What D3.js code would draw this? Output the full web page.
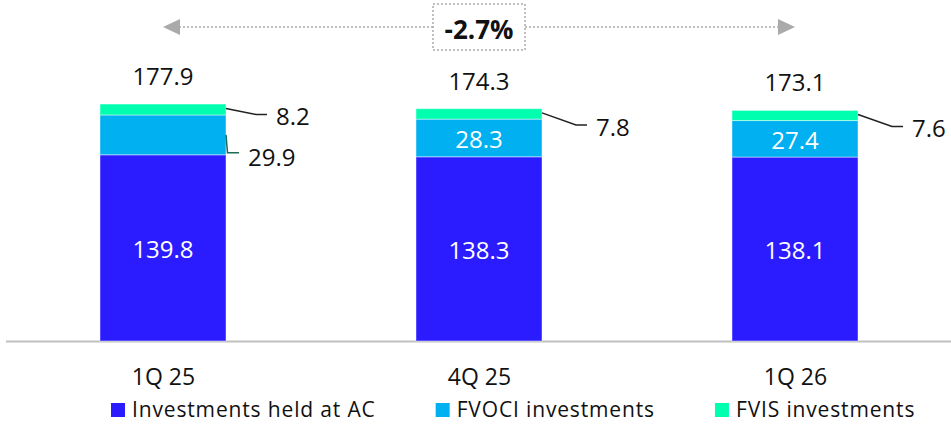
<!DOCTYPE html>
<html>
<head>
<meta charset="utf-8">
<script src="https://cdn.jsdelivr.net/npm/d3@7"></script>
<style>
  body { margin: 0; background: #fff; }
  svg { display: block; font-family: "Open Sans", "Noto Sans", sans-serif; }
</style>
</head>
<body>
<svg id="chart" width="951" height="424"></svg>
<script>
// data
var categories = ["1Q 25", "4Q 25", "1Q 26"];
var heldAtAC = [139.8, 138.3, 138.1];
var fvoci = [29.9, 28.3, 27.4];
var fvis = [8.2, 7.8, 7.6];
var totals = [177.9, 174.3, 173.1];
var fvociOutside = [true, false, false];
var changeLabel = "-2.7%";
var seriesNames = ["Investments held at AC", "FVOCI investments", "FVIS investments"];
var colors = ["#2a1cff", "#00b0f0", "#00ffae"];

var svg = d3.select("#chart");
var baseY = 341;
var barW = 126;

var x = d3.scalePoint().domain(categories).range([163, 795]);
var y = d3.scaleLinear().domain([0, 256]).range([baseY, 0]);

// stack the three series
var rows = categories.map(function(c, i){
  return {cat: c, ac: heldAtAC[i], fvoci: fvoci[i], fvis: fvis[i]};
});
var stack = d3.stack().keys(["ac", "fvoci", "fvis"]);
var layers = stack(rows);

// baseline
svg.append("line")
  .attr("x1", 6).attr("x2", 951)
  .attr("y1", baseY + 0.5).attr("y2", baseY + 0.5)
  .attr("stroke", "#c0c0c0").attr("stroke-width", 2);

// bars
svg.selectAll("g.layer")
  .data(layers)
  .enter()
  .append("g")
  .attr("class", "layer")
  .attr("fill", function(d, i){ return colors[i]; })
  .selectAll("rect")
  .data(function(d){ return d; })
  .enter()
  .append("rect")
  .attr("x", function(d){ return x(d.data.cat) - barW / 2; })
  .attr("y", function(d){ return y(d[1]); })
  .attr("width", barW)
  .attr("height", function(d){ return y(d[0]) - y(d[1]); })
  .attr("stroke", "rgba(255,255,255,0.45)")
  .attr("stroke-width", 1);

// values inside the bars
svg.selectAll("text.acLabel")
  .data(layers[0])
  .enter()
  .append("text")
  .attr("x", function(d){ return x(d.data.cat); })
  .attr("y", function(d){ return (y(d[0]) + y(d[1])) / 2 + 10; })
  .attr("text-anchor", "middle")
  .attr("fill", "#fff")
  .attr("font-size", 24)
  .text(function(d){ return d.data.ac.toFixed(1); });

svg.selectAll("text.fvociLabel")
  .data(layers[1].filter(function(d, i){ return !fvociOutside[i]; }))
  .enter()
  .append("text")
  .attr("x", function(d){ return x(d.data.cat); })
  .attr("y", function(d){ return (y(d[0]) + y(d[1])) / 2 + 10; })
  .attr("text-anchor", "middle")
  .attr("fill", "#fff")
  .attr("font-size", 24)
  .text(function(d){ return d.data.fvoci.toFixed(1); });

// FVOCI label outside (first bar) with teal leader
layers[1].forEach(function(d, i){
  if (!fvociOutside[i]) return;
  var rx = x(d.data.cat) + barW / 2;
  var mid = (y(d[0]) + y(d[1])) / 2;
  svg.append("path")
    .attr("d", "M" + rx + "," + mid + " L" + (rx + 1.5) + "," + (mid + 18) + " L" + (rx + 13) + "," + (mid + 18))
    .attr("fill", "none").attr("stroke", "#1b6b58").attr("stroke-width", 1.5);
  svg.append("text")
    .attr("x", rx + 22).attr("y", mid + 31)
    .attr("font-size", 24).attr("fill", "#111")
    .text(d.data.fvoci.toFixed(1));
});

// FVIS labels outside with leaders
layers[2].forEach(function(d, i){
  var rx = x(d.data.cat) + barW / 2;
  var mid = (y(d[0]) + y(d[1])) / 2;
  var dy = fvociOutside[i] ? 5 : 11;
  var dx = fvociOutside[i] ? 30 : 34;
  svg.append("path")
    .attr("d", "M" + rx + "," + (mid - 1) + " L" + (rx + dx) + "," + (mid + dy) + " L" + (rx + dx + 11) + "," + (mid + dy))
    .attr("fill", "none").attr("stroke", "#222").attr("stroke-width", 1.5);
  svg.append("text")
    .attr("x", rx + dx + 20).attr("y", mid + dy + 11)
    .attr("font-size", 24).attr("fill", "#111")
    .text(d.data.fvis.toFixed(1));
});

// totals above bars
svg.selectAll("text.total")
  .data(totals)
  .enter()
  .append("text")
  .attr("x", function(d, i){ return x(categories[i]); })
  .attr("y", function(d){ return y(d) - 19; })
  .attr("text-anchor", "middle")
  .attr("font-size", 24)
  .attr("fill", "#111")
  .text(function(d){ return d.toFixed(1); });

// category axis
var axis = svg.append("g")
  .attr("transform", "translate(0," + baseY + ")")
  .call(d3.axisBottom(x).tickSize(0).tickPadding(28));
axis.select(".domain").remove();
axis.selectAll("text")
  .attr("font-size", 23)
  .attr("font-family", "Open Sans, Noto Sans, sans-serif")
  .attr("fill", "#111");

// change arrow
var arrowY = 27;
var x0 = x(categories[0]), x1 = x(categories[1]), x2 = x(categories[2]);
var boxW = 92, boxH = 46;
svg.append("line")
  .attr("x1", x0 + 16).attr("x2", x1 - boxW / 2)
  .attr("y1", arrowY).attr("y2", arrowY)
  .attr("stroke", "#aaa").attr("stroke-width", 1.5).attr("stroke-dasharray", "2,2");
svg.append("line")
  .attr("x1", x1 + boxW / 2).attr("x2", x2 - 16)
  .attr("y1", arrowY).attr("y2", arrowY)
  .attr("stroke", "#aaa").attr("stroke-width", 1.5).attr("stroke-dasharray", "2,2");
svg.append("path")
  .attr("d", "M" + x0 + "," + arrowY + " L" + (x0 + 17) + "," + (arrowY - 8) + " L" + (x0 + 17) + "," + (arrowY + 8) + "Z")
  .attr("fill", "#aaa");
svg.append("path")
  .attr("d", "M" + x2 + "," + arrowY + " L" + (x2 - 17) + "," + (arrowY - 8) + " L" + (x2 - 17) + "," + (arrowY + 8) + "Z")
  .attr("fill", "#aaa");
svg.append("rect")
  .attr("x", x1 - boxW / 2).attr("y", arrowY - boxH / 2)
  .attr("width", boxW).attr("height", boxH)
  .attr("fill", "#fff")
  .attr("stroke", "#aaa").attr("stroke-width", 1.5).attr("stroke-dasharray", "2,2");
svg.append("text")
  .attr("x", x1).attr("y", arrowY + 12)
  .attr("text-anchor", "middle")
  .attr("font-size", 26).attr("font-weight", "bold").attr("fill", "#111")
  .text(changeLabel);

// legend
var legend = svg.append("g");
var lx = 111;
seriesNames.forEach(function(name, i){
  legend.append("rect")
    .attr("x", lx).attr("y", 403)
    .attr("width", 14).attr("height", 14)
    .attr("fill", colors[i]);
  var t = legend.append("text")
    .attr("x", lx + 21).attr("y", 417)
    .attr("font-size", 21).attr("letter-spacing", 0.85).attr("fill", "#111")
    .text(name);
  lx += 21 + t.node().getComputedTextLength() + 60;
});
</script>
</body>
</html>
